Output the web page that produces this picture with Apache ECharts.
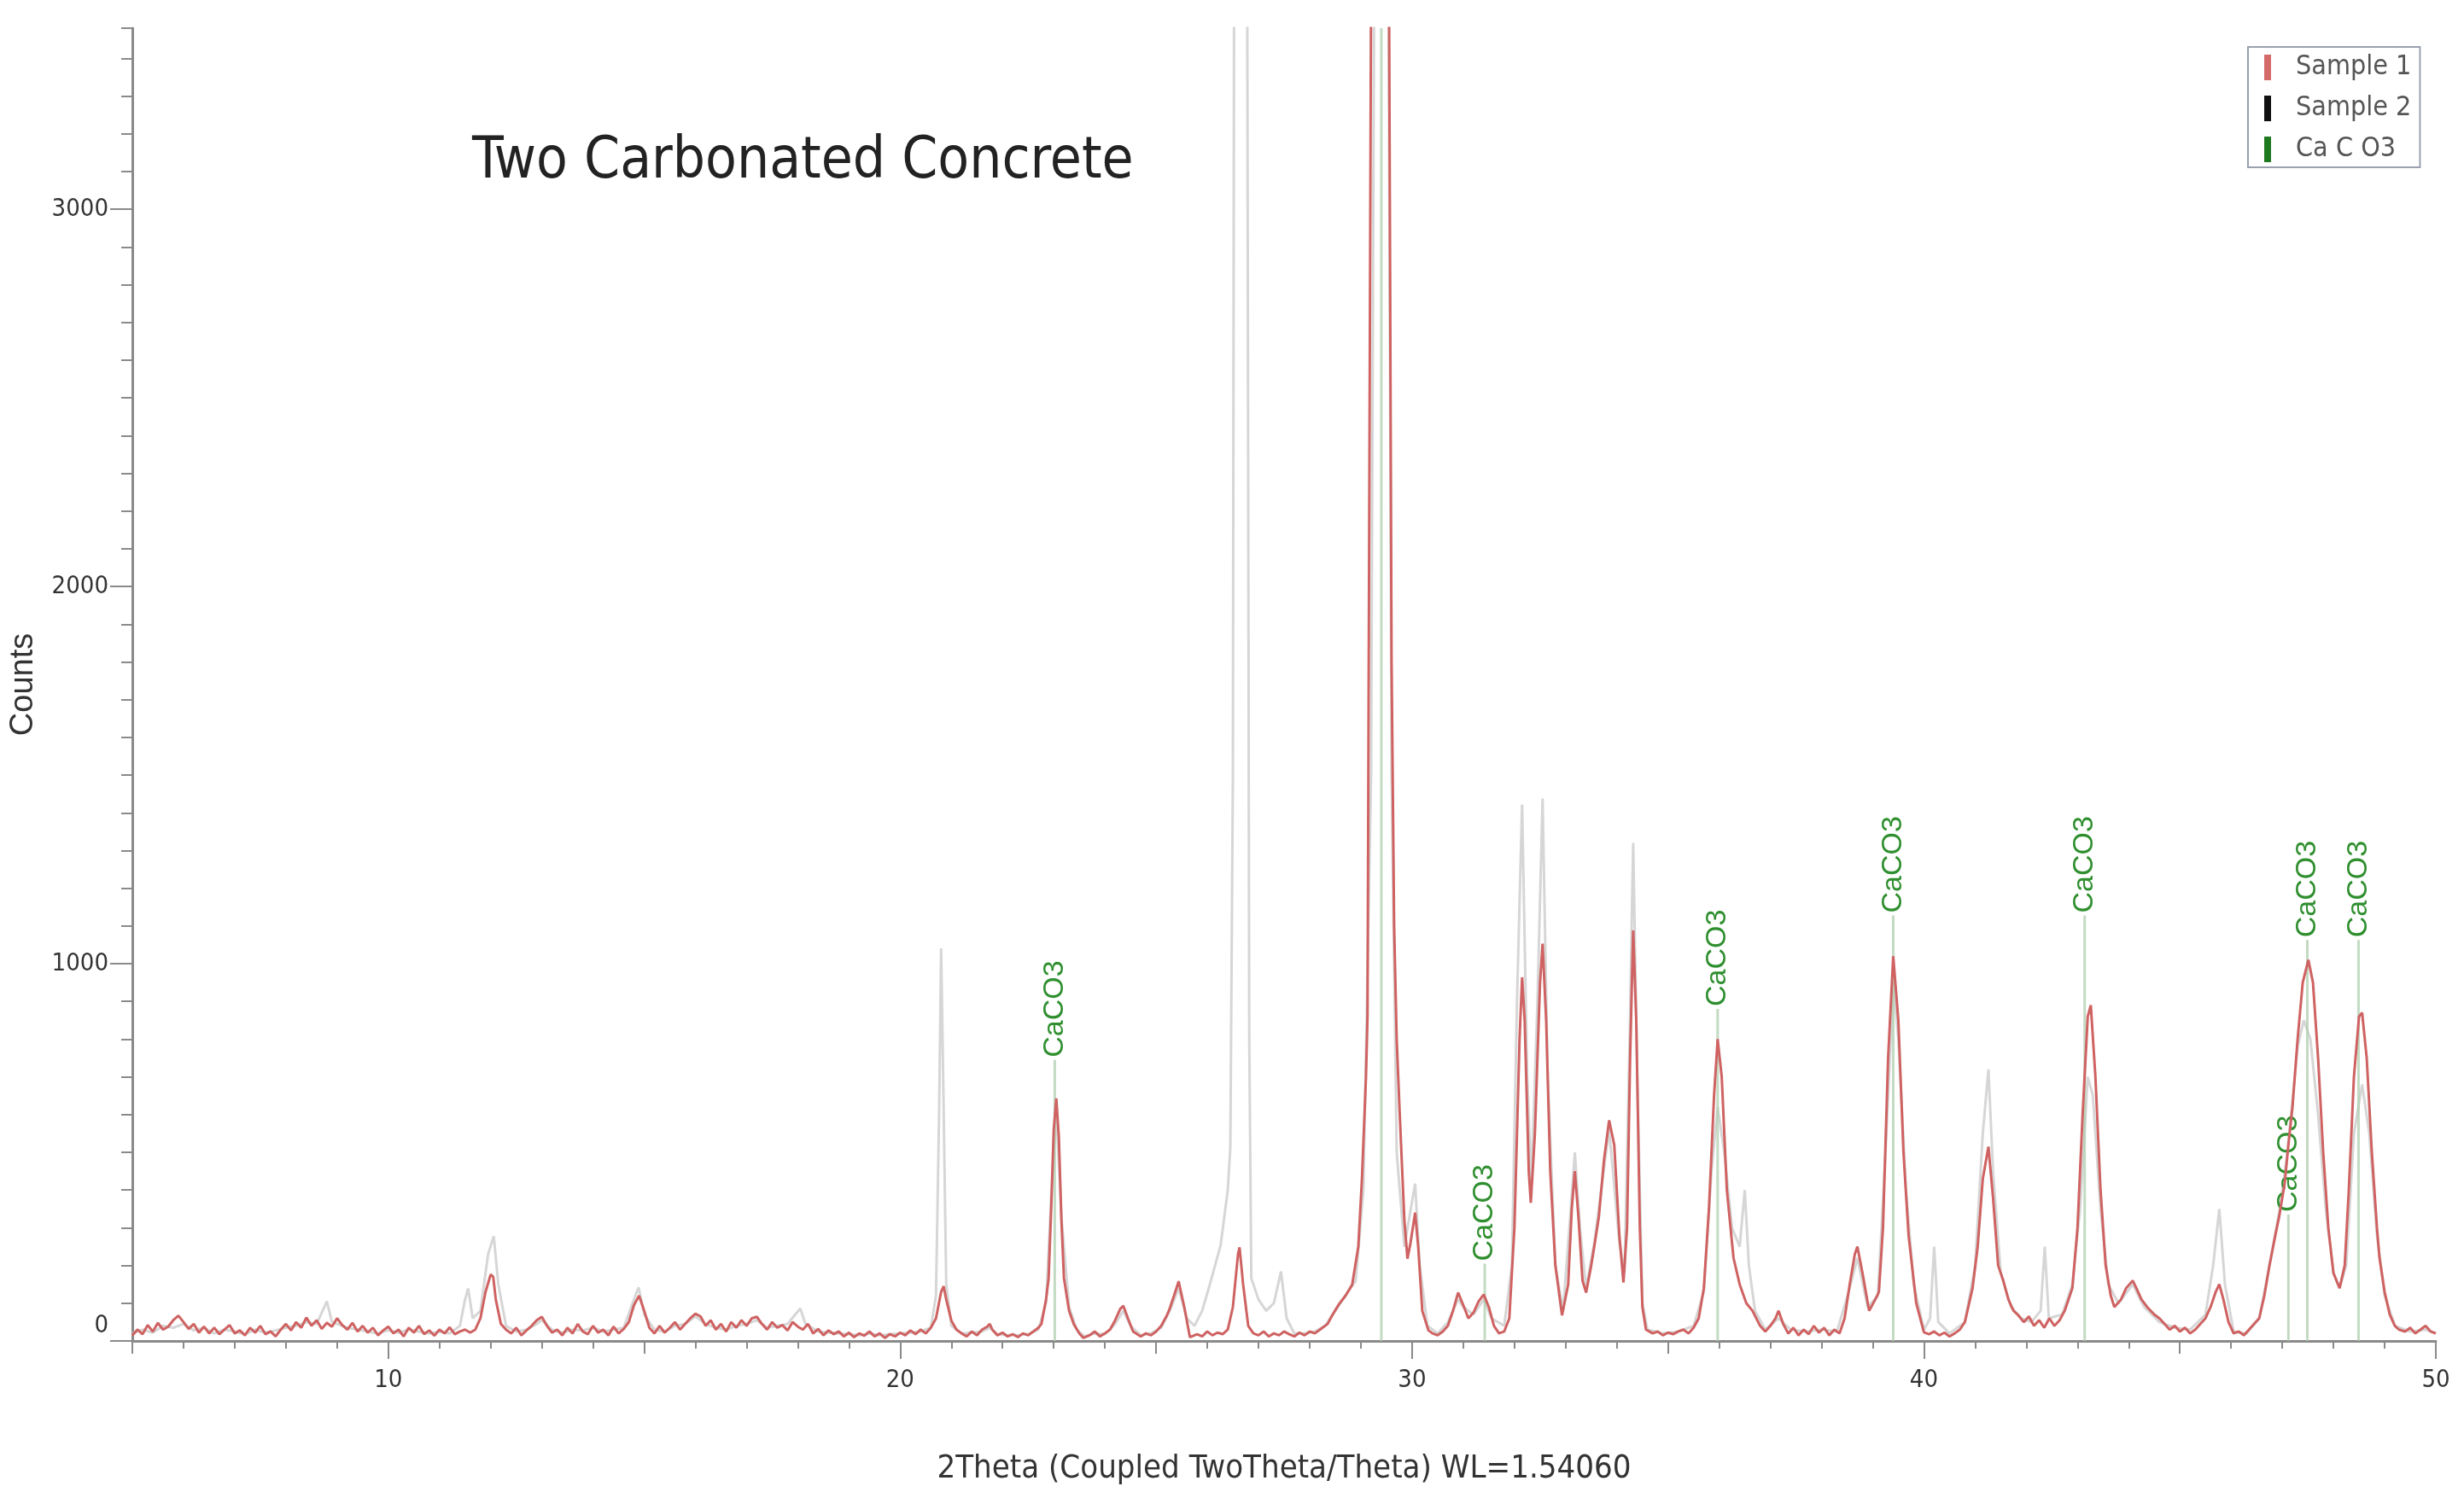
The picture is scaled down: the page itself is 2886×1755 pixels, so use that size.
<!DOCTYPE html>
<html>
<head>
<meta charset="utf-8">
<script src="https://cdn.jsdelivr.net/npm/echarts@6/dist/echarts.min.js"></script>
<style>
html,body{margin:0;padding:0;background:#fff;}
#chart{width:2886px;height:1755px;}
</style>
</head>
<body>
<div id="chart"></div>
<script>
// ---- Data ----
const titleText = 'Two Carbonated Concrete';
const xAxisName = '2Theta (Coupled TwoTheta/Theta) WL=1.54060';
const yAxisName = 'Counts';
const seriesNames = ['Sample 1', 'Sample 2', 'Ca C O3'];
const xMajorTicks = [10, 20, 30, 40, 50];
const xMidTicks = [5, 10, 15, 20, 25, 30, 35, 40, 45, 50];
const yMajorTicks = [0, 1000, 2000, 3000];

// Sample 1 (red) : [2theta, counts]
const sample1 = [
[5.0,15],[5.1,30],[5.2,18],[5.3,42],[5.4,25],[5.5,48],[5.6,30],[5.7,38],[5.8,55],[5.9,67],
[6.0,50],[6.1,32],[6.2,45],[6.3,22],[6.4,38],[6.5,20],[6.6,35],[6.7,18],[6.8,30],[6.9,42],
[7.0,20],[7.1,28],[7.2,15],[7.3,35],[7.4,22],[7.5,40],[7.6,18],[7.7,25],[7.8,12],[7.9,30],
[8.0,45],[8.1,28],[8.2,50],[8.3,35],[8.4,62],[8.5,40],[8.6,55],[8.7,32],[8.8,48],[8.9,38],
[9.0,60],[9.1,42],[9.2,30],[9.3,48],[9.4,25],[9.5,40],[9.6,22],[9.7,35],[9.8,15],[9.9,28],
[10.0,38],[10.1,20],[10.2,30],[10.3,12],[10.4,35],[10.5,22],[10.6,40],[10.7,18],[10.8,28],[10.9,14],
[11.0,30],[11.1,20],[11.2,36],[11.3,18],[11.4,25],[11.5,30],[11.6,22],[11.7,30],[11.8,60],[11.9,130],
[12.0,176],[12.05,170],[12.1,110],[12.2,45],[12.3,30],[12.4,20],[12.5,35],[12.6,15],[12.7,28],[12.8,40],
[12.9,55],[13.0,64],[13.1,40],[13.2,22],[13.3,30],[13.4,15],[13.5,35],[13.6,20],[13.7,45],[13.8,25],
[13.9,18],[14.0,40],[14.1,22],[14.2,30],[14.3,15],[14.4,38],[14.5,20],[14.6,32],[14.7,50],[14.8,95],
[14.9,120],[15.0,80],[15.1,35],[15.2,20],[15.3,40],[15.4,22],[15.5,35],[15.6,50],[15.7,30],[15.8,45],
[15.9,60],[16.0,72],[16.1,65],[16.2,40],[16.3,55],[16.4,30],[16.5,45],[16.6,25],[16.7,50],[16.8,35],
[16.9,55],[17.0,40],[17.1,60],[17.2,64],[17.3,45],[17.4,30],[17.5,50],[17.6,35],[17.7,42],[17.8,28],
[17.9,50],[18.0,38],[18.1,30],[18.2,45],[18.3,20],[18.4,32],[18.5,15],[18.6,28],[18.7,18],[18.8,25],
[18.9,12],[19.0,22],[19.1,10],[19.2,20],[19.3,14],[19.4,25],[19.5,12],[19.6,20],[19.7,8],[19.8,18],
[19.9,12],[20.0,22],[20.1,15],[20.2,28],[20.3,18],[20.4,30],[20.5,20],[20.6,35],[20.7,60],[20.8,130],
[20.85,145],[20.9,110],[21.0,54],[21.1,30],[21.2,20],[21.3,12],[21.4,25],[21.5,15],[21.6,30],[21.7,38],
[21.75,45],[21.8,30],[21.9,15],[22.0,22],[22.1,12],[22.2,18],[22.3,10],[22.4,20],[22.5,15],[22.6,25],
[22.7,35],[22.76,45],[22.85,110],[22.9,166],[22.95,350],[23.0,560],[23.05,643],[23.1,540],[23.15,320],[23.2,166],
[23.3,80],[23.39,45],[23.5,20],[23.58,8],[23.7,15],[23.8,25],[23.9,12],[24.0,20],[24.1,30],[24.2,55],
[24.3,85],[24.36,93],[24.45,60],[24.55,25],[24.7,12],[24.8,20],[24.9,15],[25.0,25],[25.1,40],[25.2,65],
[25.25,80],[25.35,120],[25.44,158],[25.55,90],[25.66,10],[25.8,18],[25.9,12],[26.0,25],[26.1,15],[26.2,22],
[26.3,18],[26.4,30],[26.5,90],[26.6,230],[26.63,248],[26.7,150],[26.8,40],[26.9,20],[27.0,15],[27.1,25],
[27.2,12],[27.3,20],[27.4,15],[27.5,25],[27.6,18],[27.7,12],[27.8,22],[27.9,15],[28.0,25],[28.1,20],
[28.2,30],[28.35,45],[28.45,70],[28.57,97],[28.7,120],[28.83,149],[28.95,250],[29.02,426],[29.1,700],[29.13,859],
[29.2,3600],[29.3,7500],[29.4,9000],[29.5,6000],[29.55,3600],[29.6,1800],[29.65,1100],[29.7,800],[29.76,600],[29.85,320],[29.91,218],
[29.97,260],[30.06,340],[30.12,250],[30.2,80],[30.32,28],[30.4,20],[30.5,15],[30.6,25],[30.7,40],[30.8,80],
[30.9,128],[31.0,95],[31.1,60],[31.2,75],[31.3,105],[31.4,123],[31.5,90],[31.6,40],[31.7,20],[31.8,25],
[31.9,60],[32.0,300],[32.1,800],[32.15,964],[32.2,850],[32.28,450],[32.32,366],[32.4,550],[32.5,950],[32.55,1053],
[32.62,850],[32.7,450],[32.8,200],[32.93,68],[33.05,150],[33.12,350],[33.18,450],[33.25,330],[33.33,160],[33.4,128],
[33.5,200],[33.56,250],[33.65,330],[33.75,480],[33.85,585],[33.95,520],[34.05,280],[34.13,155],[34.2,300],[34.26,750],
[34.32,1088],[34.38,850],[34.45,300],[34.5,90],[34.57,30],[34.7,20],[34.8,25],[34.9,15],[35.0,22],[35.1,18],
[35.2,25],[35.3,30],[35.4,20],[35.5,35],[35.6,60],[35.7,140],[35.8,350],[35.9,650],[35.97,800],[36.05,700],
[36.15,400],[36.28,220],[36.4,150],[36.53,100],[36.65,80],[36.8,40],[36.9,25],[37.0,40],[37.1,60],[37.16,80],
[37.25,45],[37.35,20],[37.45,35],[37.55,15],[37.65,30],[37.75,18],[37.85,40],[37.95,22],[38.05,35],[38.15,15],
[38.25,30],[38.35,20],[38.45,60],[38.55,150],[38.65,230],[38.7,250],[38.8,180],[38.93,80],[39.05,110],[39.12,130],
[39.2,300],[39.3,750],[39.4,1020],[39.5,850],[39.6,500],[39.7,280],[39.75,220],[39.85,100],[40.0,23],[40.1,18],
[40.2,25],[40.3,15],[40.4,22],[40.5,12],[40.6,20],[40.7,30],[40.8,50],[40.95,140],[41.05,250],[41.15,430],
[41.26,515],[41.35,380],[41.45,200],[41.55,160],[41.65,110],[41.75,80],[41.83,70],[41.95,50],[42.05,65],[42.15,40],
[42.25,55],[42.35,35],[42.45,60],[42.55,40],[42.65,55],[42.75,80],[42.9,140],[43.0,300],[43.1,600],[43.2,860],
[43.26,890],[43.35,700],[43.45,400],[43.55,200],[43.65,120],[43.72,90],[43.85,110],[43.95,140],[44.08,160],[44.15,140],
[44.25,110],[44.36,90],[44.5,70],[44.6,60],[44.7,45],[44.8,30],[44.9,40],[45.0,25],[45.1,35],[45.2,20],
[45.3,30],[45.4,45],[45.5,60],[45.6,90],[45.7,130],[45.77,150],[45.85,110],[45.95,50],[46.05,20],[46.15,25],
[46.25,15],[46.35,30],[46.45,45],[46.55,60],[46.65,120],[46.75,200],[46.85,270],[46.94,330],[47.05,420],[47.12,520],
[47.2,620],[47.3,800],[47.4,950],[47.51,1010],[47.6,950],[47.7,750],[47.8,500],[47.9,300],[48.0,180],[48.12,140],
[48.22,200],[48.3,400],[48.4,700],[48.5,860],[48.56,870],[48.65,750],[48.75,500],[48.85,300],[48.9,220],[49.0,130],
[49.1,70],[49.2,40],[49.28,30],[49.4,25],[49.5,35],[49.6,20],[49.7,30],[49.8,40],[49.9,25],[50.0,20]
];

// Sample 2 (drawn light grey) : [2theta, counts]
const sample2 = [
[5.0,20],[5.2,30],[5.4,22],[5.6,40],[5.8,35],[6.0,45],[6.2,28],[6.4,35],[6.6,20],[6.8,30],
[7.0,25],[7.2,18],[7.4,30],[7.6,22],[7.8,28],[8.0,35],[8.2,40],[8.4,50],[8.6,45],[8.8,105],
[8.9,50],[9.0,45],[9.2,35],[9.4,30],[9.6,25],[9.8,20],[10.0,28],[10.2,22],[10.4,30],[10.6,25],
[10.8,20],[11.0,25],[11.2,20],[11.4,40],[11.5,110],[11.56,139],[11.65,60],[11.8,80],[11.95,230],[12.06,278],
[12.15,150],[12.3,40],[12.5,25],[12.7,30],[12.9,45],[13.0,55],[13.2,30],[13.4,22],[13.6,30],[13.8,28],
[14.0,35],[14.2,25],[14.4,30],[14.6,35],[14.8,110],[14.89,142],[15.0,70],[15.2,30],[15.4,25],[15.6,40],
[15.8,45],[16.0,65],[16.2,45],[16.4,35],[16.6,30],[16.8,40],[17.0,45],[17.2,55],[17.4,35],[17.6,40],
[17.8,45],[17.95,70],[18.05,86],[18.15,45],[18.4,25],[18.6,22],[18.8,20],[19.0,18],[19.2,15],[19.4,20],
[19.6,15],[19.8,18],[20.0,20],[20.2,22],[20.4,25],[20.6,35],[20.7,120],[20.76,600],[20.8,1041],[20.84,700],
[20.9,150],[21.0,40],[21.2,20],[21.4,22],[21.6,25],[21.75,35],[21.9,18],[22.1,15],[22.3,15],[22.5,18],
[22.7,30],[22.85,100],[22.95,380],[23.05,610],[23.15,330],[23.3,90],[23.45,30],[23.6,12],[23.8,20],[24.0,18],
[24.2,45],[24.36,80],[24.5,40],[24.7,15],[24.9,20],[25.1,35],[25.3,90],[25.44,140],[25.6,60],[25.75,40],
[25.9,80],[26.05,150],[26.26,253],[26.4,400],[26.45,513],[26.5,1500],[26.55,6000],[26.64,9000],[26.72,6000],[26.78,3600],
[26.82,800],[26.86,166],[27.0,110],[27.15,80],[27.3,100],[27.44,184],[27.55,60],[27.7,20],[27.9,20],[28.1,25],
[28.3,40],[28.5,80],[28.7,120],[28.9,160],[29.05,400],[29.2,1500],[29.3,5000],[29.4,9000],[29.5,5000],[29.6,1500],
[29.7,500],[29.85,250],[29.95,330],[30.06,417],[30.15,200],[30.3,40],[30.5,20],[30.7,50],[30.9,110],[31.0,90],
[31.2,70],[31.4,110],[31.55,60],[31.8,40],[31.95,200],[32.05,900],[32.15,1422],[32.25,700],[32.33,420],[32.45,900],
[32.55,1438],[32.65,700],[32.8,200],[32.95,80],[33.1,350],[33.18,500],[33.28,300],[33.4,140],[33.56,260],[33.85,560],
[34.05,260],[34.15,180],[34.25,800],[34.32,1320],[34.4,700],[34.5,100],[34.6,30],[34.9,20],[35.2,25],[35.5,40],
[35.7,130],[35.85,450],[35.97,620],[36.1,500],[36.25,300],[36.4,250],[36.5,400],[36.58,200],[36.7,80],[36.9,30],
[37.16,60],[37.4,30],[37.7,25],[38.0,30],[38.3,25],[38.55,140],[38.7,220],[38.9,90],[39.1,120],[39.25,500],
[39.4,950],[39.5,800],[39.65,400],[39.8,150],[40.0,30],[40.12,60],[40.2,250],[40.28,50],[40.5,20],[40.8,50],
[41.0,200],[41.15,550],[41.26,720],[41.35,450],[41.5,180],[41.7,90],[41.9,60],[42.1,50],[42.28,80],[42.36,250],
[42.44,60],[42.7,70],[42.9,150],[43.05,350],[43.2,700],[43.3,650],[43.45,350],[43.6,150],[43.8,100],[44.08,150],
[44.3,90],[44.6,50],[44.9,35],[45.2,30],[45.5,70],[45.65,200],[45.77,350],[45.88,150],[46.05,25],[46.3,20],
[46.55,60],[46.75,200],[46.95,350],[47.1,500],[47.2,640],[47.3,780],[47.42,850],[47.55,800],[47.7,600],[47.85,350],
[48.0,180],[48.12,140],[48.25,200],[48.4,550],[48.56,680],[48.7,550],[48.85,280],[49.0,120],[49.2,40],[49.5,25],
[49.8,30],[50.0,20]
];

// CaCO3 reference sticks: positions, stick heights, labelled or not
const calcitePos = [23.02, 29.40, 31.42, 35.97, 39.40, 43.14, 47.12, 47.49, 48.49];
const calciteHeight = [745, 3480, 205, 880, 1128, 1128, 335, 1063, 1063];
const calciteLabelled = [true, false, true, true, true, true, true, true, true];
const calciteLabel = 'CaCO3';

// ---- Chart ----
const NARROW = "'Liberation Sans Narrow', 'DejaVu Sans Condensed', 'Liberation Sans', sans-serif";
const SANS = "'Liberation Sans', Arial, sans-serif";
const AXIS_GREY = '#8a8a8a';
const YMAX = 3480;

const stickData = calcitePos.map((x, i) => ({
  value: [x, calciteHeight[i]],
  label: { show: calciteLabelled[i] }
}));

const chart = echarts.init(document.getElementById('chart'));
chart.setOption({
  backgroundColor: '#ffffff',
  animation: false,
  title: {
    text: titleText,
    left: 548,
    top: 152,
    textStyle: { fontFamily: NARROW, fontSize: 67, fontWeight: 'normal', color: '#222' }
  },
  legend: {
    orient: 'vertical',
    left: 2633,
    top: 55,
    icon: 'rect',
    itemWidth: 8,
    itemHeight: 30,
    itemGap: 16,
    padding: [8, 10, 5, 19],
    borderColor: '#9aa0b0',
    borderWidth: 2,
    textStyle: { fontFamily: NARROW, fontSize: 32, color: '#555', padding: [0, 0, 0, 24] },
    data: [
      { name: seriesNames[0], itemStyle: { color: '#d46a6a' } },
      { name: seriesNames[1], itemStyle: { color: '#111' } },
      { name: seriesNames[2], itemStyle: { color: '#1f7a1f' } }
    ]
  },
  grid: { left: 155, right: 33, top: 33, bottom: 184, containLabel: false },
  xAxis: [
    {
      type: 'value', min: 5, max: 50, interval: 1,
      name: xAxisName, nameLocation: 'middle', nameGap: 131,
      nameTextStyle: { fontFamily: NARROW, fontSize: 38, color: '#333' },
      axisLine: { show: true, onZero: false, lineStyle: { color: AXIS_GREY, width: 3 } },
      axisTick: { show: true, length: 9, lineStyle: { color: AXIS_GREY, width: 2 } },
      axisLabel: {
        margin: 32, fontFamily: NARROW, fontSize: 29, color: '#333',
        formatter: v => (Math.abs(v % 10) < 1e-9 ? String(v) : '')
      },
      splitLine: { show: false }
    },
    {
      type: 'value', min: 5, max: 50, position: 'bottom',
      axisLine: { show: false },
      axisTick: { show: true, customValues: xMidTicks, length: 15, lineStyle: { color: AXIS_GREY, width: 2 } },
      axisLabel: { show: false },
      splitLine: { show: false }
    },
    {
      type: 'value', min: 5, max: 50, position: 'bottom',
      axisLine: { show: false },
      axisTick: { show: true, customValues: xMajorTicks, length: 21, lineStyle: { color: AXIS_GREY, width: 2 } },
      axisLabel: { show: false },
      splitLine: { show: false }
    }
  ],
  yAxis: [
    {
      type: 'value', min: 0, max: YMAX, interval: 100,
      name: yAxisName, nameLocation: 'middle', nameRotate: 90, nameGap: 108,
      nameTextStyle: { fontFamily: SANS, fontSize: 38, color: '#333' },
      axisLine: { show: true, onZero: false, lineStyle: { color: AXIS_GREY, width: 3 } },
      axisTick: { show: true, length: 13, lineStyle: { color: AXIS_GREY, width: 2 } },
      axisLabel: {
        margin: 28, fontFamily: NARROW, fontSize: 29, color: '#333',
        formatter: v => (v === 0 ? '{z|0}' : (v % 1000 === 0 && v <= 3000 ? String(v) : '')),
        rich: { z: { fontFamily: NARROW, fontSize: 29, color: '#333', padding: [0, 0, 36, 0] } }
      },
      splitLine: { show: false }
    },
    {
      type: 'value', min: 0, max: YMAX, position: 'left',
      axisLine: { show: false },
      axisTick: { show: true, customValues: yMajorTicks, length: 26, lineStyle: { color: AXIS_GREY, width: 2 } },
      axisLabel: { show: false },
      splitLine: { show: false }
    }
  ],
  series: [
    {
      name: seriesNames[1], type: 'line', data: sample2,
      showSymbol: false, symbol: 'none', clip: true, z: 2,
      lineStyle: { color: '#d6d6d6', width: 3 },
      itemStyle: { color: '#d6d6d6' }
    },
    {
      name: seriesNames[2], type: 'bar', data: stickData, barWidth: 3, z: 3,
      itemStyle: { color: 'rgba(175,205,175,0.75)' },
      label: {
        show: true, position: 'top', rotate: 90, align: 'left', verticalAlign: 'middle',
        distance: 3, formatter: calciteLabel,
        fontFamily: SANS, fontSize: 34, color: '#2f8f2f'
      }
    },
    {
      name: seriesNames[0], type: 'line', data: sample1,
      showSymbol: false, symbol: 'none', clip: true, z: 4,
      lineStyle: { color: '#cf6262', width: 3 },
      itemStyle: { color: '#cf6262' }
    }
  ]
});
</script>
</body>
</html>
